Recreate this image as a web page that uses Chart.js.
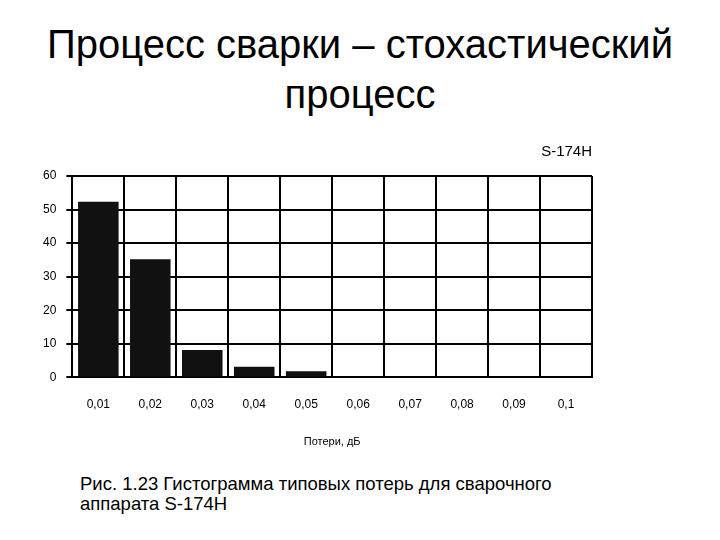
<!DOCTYPE html>
<html lang="ru">
<head>
    <meta charset="UTF-8">
    <title>Процесс сварки</title>
    <style>
        body { margin: 0; width: 720px; height: 540px; background: #fff; position: relative; overflow: hidden;
               font-family: "Liberation Sans", Arial, sans-serif; color: #000; }
        h1 { position: absolute; top: 19px; left: 0; width: 720px; margin: 0; text-align: center;
             font-size: 40px; font-weight: normal; line-height: 50px; }
        .chart-box { position: absolute; left: 0; top: 120px; width: 720px; height: 340px; }
        .caption { position: absolute; left: 80px; top: 474px; font-size: 18.5px; line-height: 20px; }
    </style>
</head>
<body>

<h1>Процесс сварки – стохастический<br>процесс</h1>

<div class="chart-box">
    <canvas id="myChart" width="720" height="340"></canvas>
</div>

<div class="caption">Рис. 1.23 Гистограмма типовых потерь для сварочного<br>аппарата S-174H</div>

<script src="https://cdn.jsdelivr.net/npm/chart.js@4/dist/chart.umd.min.js"></script>
<script>
    // data
    var losses = ['0,01', '0,02', '0,03', '0,04', '0,05', '0,06', '0,07', '0,08', '0,09', '0,1'];
    var counts = [52.3, 35.2, 8.2, 3.2, 1.8, 0, 0, 0, 0, 0];
    var yTicks = [0, 10, 20, 30, 40, 50, 60];

    var ctx = document.getElementById('myChart').getContext('2d');
    new Chart(ctx, {
        type: 'bar',
        data: {
            labels: losses,
            datasets: [{
                data: counts,
                backgroundColor: '#111',
                borderWidth: 0,
                categoryPercentage: 1,
                barPercentage: 0.78
            }]
        },
        options: {
            responsive: false,
            animation: false,
            layout: { padding: { left: 33, right: 128, top: 10, bottom: 11 } },
            plugins: {
                legend: { display: false },
                tooltip: { enabled: false },
                title: {
                    display: true,
                    text: 'S-174H',
                    align: 'end',
                    color: '#000',
                    font: { family: 'Liberation Sans', size: 15, weight: 'normal' },
                    padding: { top: 13, bottom: 15 }
                }
            },
            scales: {
                x: {
                    grid: { color: '#000', lineWidth: 2, drawTicks: false, offset: true },
                    border: { color: '#000', width: 2 },
                    ticks: { color: '#000', font: { family: 'Liberation Sans', size: 12 }, padding: 20, maxRotation: 0 },
                    title: {
                        display: true,
                        text: 'Потери, дБ',
                        color: '#000',
                        font: { family: 'Liberation Sans', size: 11 },
                        padding: { top: 4, bottom: 0 }
                    }
                },
                y: {
                    min: 0,
                    max: 60,
                    afterBuildTicks: function (scale) {
                        scale.ticks = yTicks.map(function (v) { return { value: v }; });
                    },
                    grid: { color: '#000', lineWidth: 2, tickLength: 6 },
                    border: { color: '#000', width: 2 },
                    ticks: { color: '#000', font: { family: 'Liberation Sans', size: 12 }, padding: 10 }
                }
            }
        },
        plugins: [{
            // right-hand frame line of the plot
            id: 'frame',
            afterDraw: function (chart) {
                var a = chart.chartArea, c = chart.ctx;
                c.save();
                c.strokeStyle = '#000';
                c.lineWidth = 2;
                c.beginPath();
                c.moveTo(a.right, a.top);
                c.lineTo(a.right, a.bottom);
                c.stroke();
                c.restore();
            }
        }]
    });
</script>
</body>
</html>
